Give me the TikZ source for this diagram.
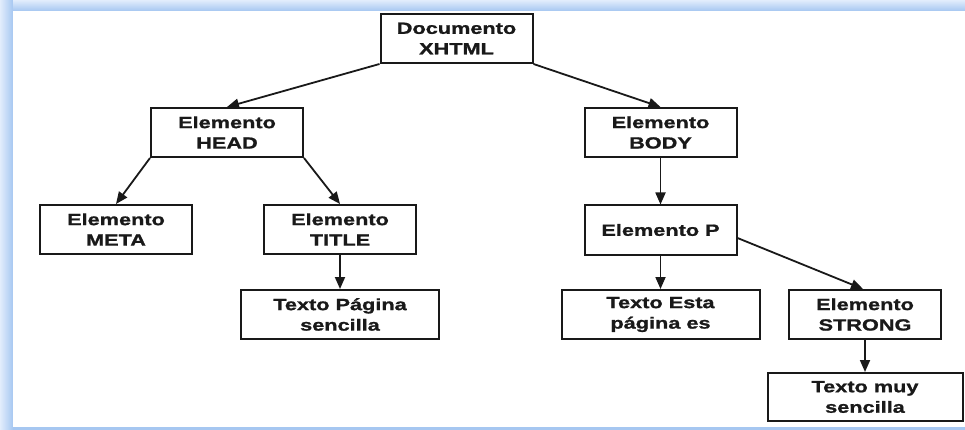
\documentclass[tikz,border=0pt]{standalone}
\usepackage{fontspec}
\setmainfont{Liberation Sans}[FakeStretch=1.34,BoldFeatures={FakeBold=1.2}]
\usetikzlibrary{arrows.meta,positioning}
\definecolor{marco}{RGB}{166,199,241}
\definecolor{marcoclaro}{RGB}{226,237,252}
\definecolor{tinta}{RGB}{25,25,25}

\begin{document}
\begin{tikzpicture}[x=1pt,y=1pt,on grid,
  caja/.style={draw=tinta,line width=2pt,minimum width=152pt,minimum height=49pt,align=center,inner sep=0pt,text=tinta,font=\fontsize{16.2}{20.5}\selectfont\bfseries},
  ancha/.style={caja,minimum width=198pt},
  flecha/.style={draw=tinta,line width=1.8pt,-{Triangle[length=12pt,width=10pt]}}]
		% marco azul
		\fill[marco] (0,0) rectangle (965,-430);
		\shade[left color=marcoclaro,right color=marco] (0,0) rectangle (13,-430);
		\shade[top color=marcoclaro,bottom color=marco] (13,0) rectangle (965,-11);
		\fill[white] (13,-11) rectangle (965,-427);
		
		\node[caja] (doc) at (456.5,-38.5) {Documento\\XHTML};
		\node[caja] (head) [below left=94pt and 229.5pt of doc] {Elemento\\HEAD};
		\node[caja] (body) [below right=94pt and 204pt of doc] {Elemento\\BODY};
		\node[caja] (meta) [below left=97pt and 111pt of head] {Elemento\\META};
		\node[caja] (title) [below right=97pt and 113pt of head] {Elemento\\TITLE};
		\node[ancha] (pagina) [below=85pt of title] {Texto Página\\sencilla};
		\node[caja] (p) [below=97.5pt of body] {Elemento P};
		\node[ancha] (esta) [below=84.5pt of p] {Texto Esta\\página es};
		\node[caja] (strong) [below right=84.5pt and 204.5pt of p] {Elemento\\STRONG};
		\node[ancha,minimum width=195pt,minimum height=48pt] (muy) [below=82.5pt of strong] {Texto muy\\sencilla};
		
		\path[every edge/.style={flecha}]
		(doc.south west) edge (head.north)
		(doc.south east) edge (body.north)
		(head.south west) edge (meta.north)
		(head.south east) edge (title.north)
		(title) edge (pagina)
		(body) edge (p)
		(p) edge (esta)
		([yshift=-8pt]p.east) edge ([xshift=-2pt]strong.north)
		(strong) edge (muy)
		;
\end{tikzpicture}
\end{document}
